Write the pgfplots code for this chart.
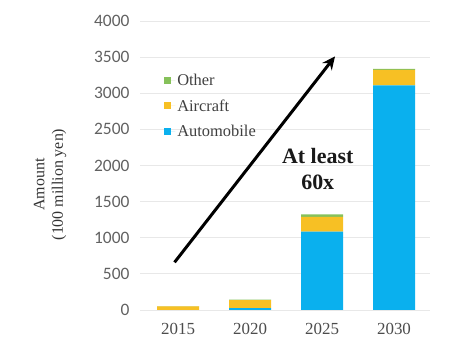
\documentclass[border=0pt]{standalone}
\usepackage{pgfplots}
\pgfplotsset{compat=1.18}
\usepackage{fontspec}
\setmainfont{Liberation Serif}
\newfontfamily\carlito{Carlito}
\usetikzlibrary{arrows.meta}
\definecolor{autoc}{HTML}{0AB0EE}
\definecolor{airc}{HTML}{F7C024}
\definecolor{othc}{HTML}{86C15A}
\definecolor{gridc}{HTML}{E8E8E8}
\pgfplotstableread{
x auto air other
0 0 50 5
1 25 110 8
2 1085 205 35
3 3110 215 12
}\data
\begin{document}
\begin{tikzpicture}
\path[use as bounding box] (0,0) rectangle (456bp,357bp);
\begin{axis}[
  at={(140bp,47bp)}, anchor=south west,
  scale only axis, width=290bp, height=289bp,
  xmin=-0.53, xmax=3.5, ymin=0, ymax=4000,
  ybar stacked, bar width=42bp,
  axis line style={draw=none},
  major tick length=0pt,
  ymajorgrids, grid style={gridc, line width=0.8bp},
  ytick={0,500,...,4000},
  xtick={0,1,2,3}, xticklabels={2015,2020,2025,2030},
  /pgf/number format/assume math mode=true,
  /pgf/number format/1000 sep={},
  yticklabel style={font=\carlito\fontsize{17.5}{18}\selectfont, text=black!62, xshift=-7bp},
  xticklabel style={font=\fontsize{17}{18}\selectfont, text=black!70, yshift=-10bp},
  ylabel={Amount\\(100 million yen)},
  ylabel style={align=center, font=\fontsize{16}{18.5}\selectfont, text=black!80, at={(ticklabel cs:0.5)}, xshift=-19bp, yshift=21bp},
  legend style={at={(0.083,0.824)}, anchor=north west, draw=none, fill=none,
    font=\fontsize{16.5}{17}\selectfont, text=black!75, row sep=8.5bp, inner sep=0pt},
  legend cell align=left,
  reverse legend,
  legend image code/.code={\fill[#1] (0bp,-3.5bp) rectangle (7bp,3.5bp); \path (0bp,0bp) -- (11bp,0bp);},
]
\addplot[fill=autoc, draw=none] table[x=x,y=auto] {\data};
\addlegendentry{Automobile}
\addplot[fill=airc, draw=none] table[x=x,y=air] {\data};
\addlegendentry{Aircraft}
\addplot[fill=othc, draw=none] table[x=x,y=other] {\data};
\addlegendentry{Other}
\draw[line width=3bp, -{Stealth[length=13bp, width=12bp]}] (axis cs:-0.05,660) -- (axis cs:2.18,3510);
\node[font=\bfseries\fontsize{22}{26}\selectfont, align=center, text=black!90] at (axis cs:1.94,1950) {At least\\60x};
\end{axis}
\end{tikzpicture}
\end{document}
